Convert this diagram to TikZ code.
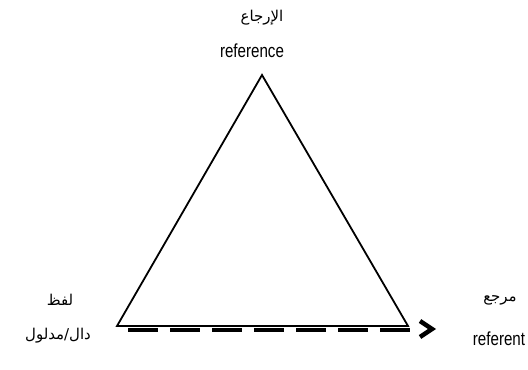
\documentclass[tikz,border=0pt]{standalone}
\usepackage{fontspec}
\setmainfont{Liberation Sans}
\newfontfamily\latinnarrow[FakeStretch=0.8]{Liberation Sans}
\newfontfamily\arabicfont[Script=Arabic]{DejaVu Sans}
\TeXXeTstate=1
\usetikzlibrary{arrows.meta}
\begin{document}
\begin{tikzpicture}[x=1bp,y=-1bp,
  lbl/.style={inner sep=0pt, font=\latinnarrow\fontsize{19}{22}\selectfont},
  arlbl/.style={inner sep=0pt, font=\arabicfont\fontsize{15}{18}\selectfont},
  tri/.style={draw=black, line width=1.8bp, line join=miter},
  dashbase/.style={draw=black, line width=4bp, dash pattern=on 30bp off 12bp},
  chevron/.style={draw=black, line width=4.5bp, line join=miter, line cap=butt}]
\useasboundingbox (0,0) rectangle (528,369);
\coordinate (apex) at (262,75);
\coordinate (bl) at (117,326);
\coordinate (br) at (408,326);
\coordinate (ds) at (128,330);
\coordinate (de) at (410,330);
\coordinate (tip) at (432,329);
\draw[tri] (bl) -- (apex) -- (br) -- cycle;
\draw[dashbase] (ds) -- (de);
\draw[chevron] ([shift={(-12,-8)}]tip) -- (tip) -- ([shift={(-12,8)}]tip);
\node[arlbl] (arTop) at (262,18) {\beginR الإرجاع\endR};
\node[lbl] (enTop) at (252,51) {reference};
\node[arlbl] (arLeft) at (60,300) {\beginR لفظ\endR};
\node[arlbl] (arLeft2) at (58,336) {\beginR دال/مدلول\endR};
\node[arlbl] (arRight) at (500,300) {\beginR مرجع\endR};
\node[lbl] (enRight) at (499,339) {referent};
\end{tikzpicture}
\end{document}
